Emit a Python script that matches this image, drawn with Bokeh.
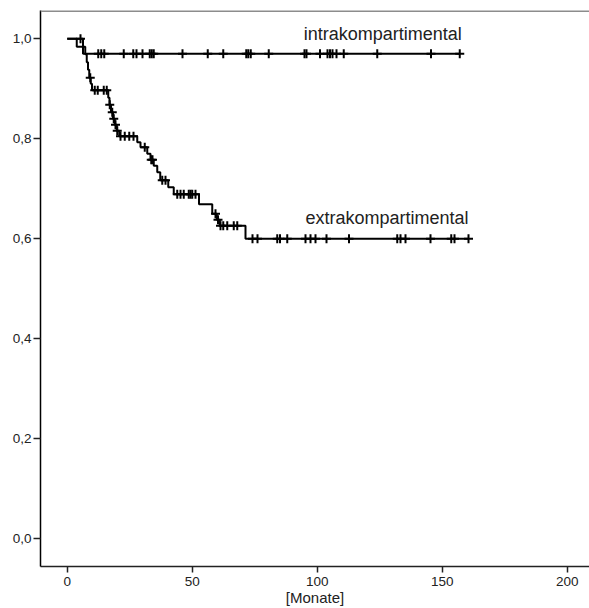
import numpy as np
from bokeh.plotting import figure
from bokeh.models import FixedTicker, Span
from bokeh.core.properties import value
from bokeh.embed import file_html
from bokeh.resources import INLINE

# ---- data (months, survival) ----
group_names = ["intrakompartimental", "extrakompartimental"]

intra_event_t = [6.3]
intra_event_s = [0.970]
intra_end = 157.0
intra_censor_t = [5.3, 12.4, 13.6, 14.8, 22.6, 26.4, 27.7, 30.1, 33.0, 33.8, 34.6,
                  46.1, 56.2, 62.4, 71.6, 72.4, 73.4, 80.6, 94.9, 95.7, 101.1,
                  104.1, 105.1, 106.1, 107.7, 110.6, 124.0, 145.5, 157.0]

extra_event_t = [3.8, 7.2, 7.8, 8.3, 8.8, 9.4, 9.9, 16.4, 16.9, 17.5, 18.3, 19.0,
                 19.8, 20.8, 28.0, 29.3, 32.0, 33.3, 34.6, 36.0, 37.2, 40.4,
                 42.6, 52.7, 58.0, 59.8, 61.0, 71.3]
extra_event_s = [0.984, 0.969, 0.953, 0.938, 0.922, 0.910, 0.897, 0.882, 0.868,
                 0.853, 0.840, 0.828, 0.816, 0.805, 0.793, 0.783, 0.770, 0.758,
                 0.746, 0.733, 0.717, 0.703, 0.689, 0.669, 0.650, 0.638, 0.626,
                 0.600]
extra_end = 160.5
extra_censor_t = [9.2, 11.0, 12.2, 14.6, 15.8, 17.0, 18.0, 18.6, 19.3, 20.0,
                  21.3, 23.0, 24.8, 26.5, 31.0, 33.6, 34.1, 38.0, 39.3,
                  44.0, 45.3, 46.6, 48.6, 49.3, 50.0, 51.3, 59.3, 60.3,
                  61.3, 62.4, 64.0, 66.6, 68.0,
                  74.1, 76.1, 84.0, 85.1, 88.0, 95.3, 97.3, 99.3, 103.7, 112.7,
                  132.0, 133.3, 135.3, 145.3, 153.6, 154.9, 160.5]

x_ticks = [0, 50, 100, 150, 200]
y_ticks = [0.0, 0.2, 0.4, 0.6, 0.8, 1.0]
y_tick_labels = ["0,0", "0,2", "0,4", "0,6", "0,8", "1,0"]
x_title = "[Monate]"

FONT = "Liberation Sans"

p = figure(width=589, height=608, output_backend="svg", toolbar_location=None,
           x_range=(-10.7, 208.9), y_range=(-0.0554, 1.0566),
           min_border_left=40, min_border_right=0, min_border_top=10,
           min_border_bottom=0)
p.background_fill_color = "white"
p.border_fill_color = "white"
p.outline_line_color = None
p.grid.visible = False


def step_curve(ev_t, ev_s, end):
    xs = [0.0] + list(ev_t) + [end]
    ys = [1.0] + list(ev_s) + [ev_s[-1]]
    return xs, ys


def level_at(ev_t, ev_s, ts):
    ev_t = np.asarray(ev_t)
    lv = np.concatenate([[1.0], ev_s])
    idx = np.searchsorted(ev_t, np.asarray(ts), side="right")
    return lv[idx]


for ev_t, ev_s, end, cens in [(intra_event_t, intra_event_s, intra_end, intra_censor_t),
                              (extra_event_t, extra_event_s, extra_end, extra_censor_t)]:
    xs, ys = step_curve(ev_t, ev_s, end)
    p.step(xs, ys, mode="after", line_color="black", line_width=2)
    cy = level_at(ev_t, ev_s, cens)
    p.scatter(cens, cy, marker="cross", size=9, line_color="black", line_width=2)

p.text(x=[94.6, 95.3], y=[1.009, 0.642], text=group_names,
       text_font=value(FONT), text_font_size="18px", text_color="#222222",
       text_baseline="alphabetic", text_align="left")

# top border
p.add_layout(Span(location=1.0566, dimension="width", line_color="#8c8c8c", line_width=3))

xa = p.xaxis[0]
xa.ticker = FixedTicker(ticks=x_ticks)
xa.axis_label = x_title
xa.axis_label_text_font = FONT
xa.axis_label_text_font_style = "normal"
xa.axis_label_text_font_size = "15px"
xa.axis_label_text_color = "#222222"
xa.axis_label_standoff = 0
xa.major_label_text_font = FONT
xa.major_label_text_font_size = "13.5px"
xa.major_label_text_color = "#222222"
xa.major_label_standoff = 4
xa.major_tick_out = 6
xa.major_tick_in = 0
xa.minor_tick_line_color = None
xa.axis_line_color = "#222222"
xa.axis_line_width = 1.5
xa.major_tick_line_color = "#222222"
xa.major_tick_line_width = 1.5

ya = p.yaxis[0]
ya.ticker = FixedTicker(ticks=y_ticks)
ya.major_label_overrides = {t: l for t, l in zip(y_ticks, y_tick_labels)}
ya.major_label_text_font = FONT
ya.major_label_text_font_size = "13.5px"
ya.major_label_text_color = "#222222"
ya.major_label_standoff = 2
ya.major_tick_out = 7
ya.major_tick_in = 0
ya.minor_tick_line_color = None
ya.axis_line_color = "black"
ya.axis_line_width = 1.5
ya.major_tick_line_color = "#222222"
ya.major_tick_line_width = 1.5

open("out.html", "w").write(file_html(p, INLINE))
